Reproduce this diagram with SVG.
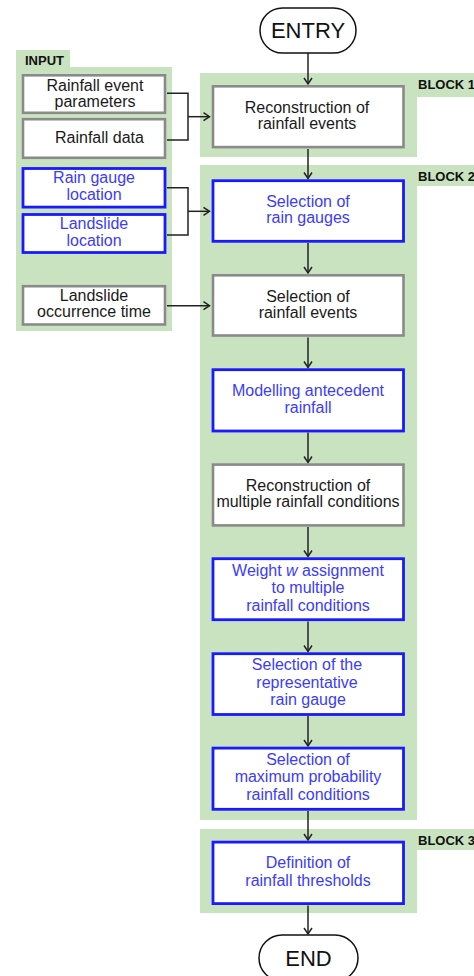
<svg xmlns="http://www.w3.org/2000/svg" width="474" height="976" viewBox="0 0 474 976">
<defs>
<style>
.panel{fill:#c9e3c1;}
.gbox{fill:#fff;stroke:#8a8a8a;stroke-width:2.6;}
.bbox{fill:#fff;stroke:#1a1aff;stroke-width:2.8;}
.pill{fill:#fff;stroke:#111;stroke-width:1.5;}
.t{font-family:"Liberation Sans",Arial,sans-serif;font-size:16px;text-anchor:middle;fill:#1a1a1a;}
.tb{font-family:"Liberation Sans",Arial,sans-serif;font-size:16px;text-anchor:middle;fill:#3b3bff;}
.lbl{font-family:"Liberation Sans",Arial,sans-serif;font-size:13px;font-weight:bold;fill:#111;}
.big{font-family:"Liberation Sans",Arial,sans-serif;font-size:22px;text-anchor:middle;fill:#111;}
.c{fill:none;stroke:#222;stroke-width:1.5;}
</style>
<marker id="ah" markerWidth="10" markerHeight="10" refX="7" refY="5" orient="auto" markerUnits="userSpaceOnUse">
<path d="M1,1 L7,5 L1,9" fill="none" stroke="#222" stroke-width="1.5"/>
</marker>
</defs>

<g id="panels">
<path class="panel" d="M16,50 H70 V67 H172 V331 H16 Z"/>
<text class="lbl" x="25" y="64.5">INPUT</text>
<rect class="panel" x="200" y="73" width="217" height="84"/>
<rect class="panel" x="417" y="73" width="57" height="24"/>
<text class="lbl" x="418" y="89">BLOCK 1</text>
<rect class="panel" x="200" y="165" width="217" height="655"/>
<rect class="panel" x="417" y="165" width="57" height="21"/>
<text class="lbl" x="418" y="180.5">BLOCK 2</text>
<rect class="panel" x="200" y="829" width="217" height="84"/>
<rect class="panel" x="417" y="829" width="57" height="21"/>
<text class="lbl" x="418" y="845">BLOCK 3</text>
</g>

<g id="connectors">
<path class="c" d="M308,53 V84" marker-end="url(#ah)"/>
<path class="c" d="M308,149 V178.5" marker-end="url(#ah)"/>
<path class="c" d="M308,243 V273" marker-end="url(#ah)"/>
<path class="c" d="M308,337.5 V367.5" marker-end="url(#ah)"/>
<path class="c" d="M308,432.5 V462.5" marker-end="url(#ah)"/>
<path class="c" d="M308,527 V556.5" marker-end="url(#ah)"/>
<path class="c" d="M308,621.5 V651.5" marker-end="url(#ah)"/>
<path class="c" d="M308,716 V746" marker-end="url(#ah)"/>
<path class="c" d="M308,811 V840" marker-end="url(#ah)"/>
<path class="c" d="M308,905.5 V934" marker-end="url(#ah)"/>
<path class="c" d="M167,93.3 H188 V140 H167"/>
<path class="c" d="M188,116.7 H209.5" marker-end="url(#ah)"/>
<path class="c" d="M167,187.7 H188 V235 H167"/>
<path class="c" d="M188,211.3 H209.5" marker-end="url(#ah)"/>
<path class="c" d="M167,305.7 H209.5" marker-end="url(#ah)"/>
</g>

<g id="entry">
<rect class="pill" x="260" y="8" width="96" height="45" rx="22.5"/>
<text class="big" x="308" y="38">ENTRY</text>
</g>
<g id="end">
<rect class="pill" x="259" y="935" width="99" height="46" rx="23"/>
<text class="big" x="308.5" y="966">END</text>
</g>

<g id="in-params">
<rect class="gbox" x="23" y="75.3" width="142" height="37.5"/>
<text class="t" x="95" y="90.8">Rainfall event</text>
<text class="t" x="95" y="106.5">parameters</text>
</g>
<g id="in-data">
<rect class="gbox" x="23" y="119.2" width="142" height="38.6"/>
<text class="t" x="99.5" y="143.3">Rainfall data</text>
</g>
<g id="in-gauge">
<rect class="bbox" x="23" y="168.5" width="142" height="38.6"/>
<text class="tb" x="94" y="183.3">Rain gauge</text>
<text class="tb" x="94" y="200">location</text>
</g>
<g id="in-landslide">
<rect class="bbox" x="23" y="214.5" width="142" height="38"/>
<text class="tb" x="94" y="229.3">Landslide</text>
<text class="tb" x="94" y="245.7">location</text>
</g>
<g id="in-time">
<rect class="gbox" x="23" y="286.2" width="142" height="38.3"/>
<text class="t" x="94" y="301.4">Landslide</text>
<text class="t" x="94" y="317.2">occurrence time</text>
</g>

<g id="b1-recon">
<rect class="gbox" x="213" y="86.3" width="190.5" height="60.8"/>
<text class="t" x="307" y="112.7">Reconstruction of</text>
<text class="t" x="307" y="129.3">rainfall events</text>
</g>
<g id="b2-gauges">
<rect class="bbox" x="213" y="180.7" width="190.5" height="60.6"/>
<text class="tb" x="308" y="206.7">Selection of</text>
<text class="tb" x="308" y="223.3">rain gauges</text>
</g>
<g id="b2-events">
<rect class="gbox" x="213" y="275.3" width="190.5" height="60.2"/>
<text class="t" x="308" y="301.7">Selection of</text>
<text class="t" x="308" y="318.3">rainfall events</text>
</g>
<g id="b2-model">
<rect class="bbox" x="213" y="369.7" width="190.5" height="61.3"/>
<text class="tb" x="308" y="396">Modelling antecedent</text>
<text class="tb" x="308" y="412.7">rainfall</text>
</g>
<g id="b2-multi">
<rect class="gbox" x="213" y="464.6" width="190.5" height="60.8"/>
<text class="t" x="308" y="490.7">Reconstruction of</text>
<text class="t" x="308" y="507.3">multiple rainfall conditions</text>
</g>
<g id="b2-weight">
<rect class="bbox" x="213" y="558.7" width="190.5" height="61"/>
<text class="tb" x="308" y="575.7">Weight <tspan font-style="italic">w</tspan> assignment</text>
<text class="tb" x="308" y="593.3">to multiple</text>
<text class="tb" x="308" y="611">rainfall conditions</text>
</g>
<g id="b2-repr">
<rect class="bbox" x="213" y="653.7" width="190.5" height="60.8"/>
<text class="tb" x="307" y="670">Selection of the</text>
<text class="tb" x="307" y="687.7">representative</text>
<text class="tb" x="308" y="705">rain gauge</text>
</g>
<g id="b2-max">
<rect class="bbox" x="213" y="748.1" width="190.5" height="61.2"/>
<text class="tb" x="308" y="765">Selection of</text>
<text class="tb" x="308" y="782.3">maximum probability</text>
<text class="tb" x="308" y="800">rainfall conditions</text>
</g>
<g id="b3-def">
<rect class="bbox" x="213" y="842.1" width="190.5" height="61.5"/>
<text class="tb" x="308" y="868.3">Definition of</text>
<text class="tb" x="308" y="885.7">rainfall thresholds</text>
</g>
</svg>
